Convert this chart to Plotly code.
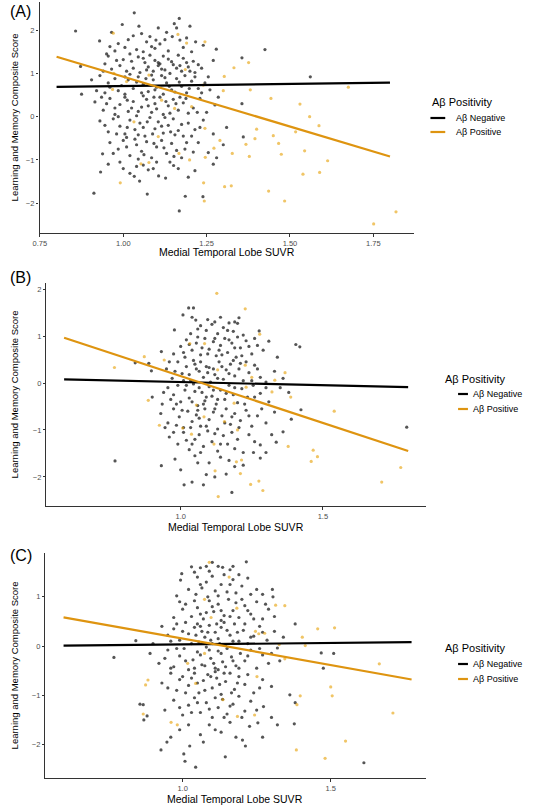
import plotly.graph_objects as go

# ---------------- DATA ----------------
# Panel A
a_neg = [(1.033,2.40),(0.997,2.13),(1.047,2.09),(1.105,2.05),(1.168,2.27),(1.153,2.15),(1.20,2.09),(0.857,1.98),(1.16,2.05),
(0.929,1.75),(0.985,1.69),(1.03,1.87),(1.07,1.73),(1.098,1.77),(1.125,1.78),(1.147,1.85),(1.17,1.77),(1.217,1.73),(1.279,1.56),(1.425,1.55),(0.96,1.62),(1.005,1.60),(1.04,1.55),(1.085,1.62),(1.11,1.68),(1.135,1.52),(1.18,1.60),(1.205,1.50),(0.95,1.45),(0.975,1.52),(1.06,1.50),(1.095,1.58),
(0.955,1.40),(0.98,1.30),(1.00,1.32),(1.02,1.45),(1.045,1.38),(1.065,1.25),(1.08,1.42),(1.095,1.30),(1.11,1.22),(1.12,1.40),(1.135,1.33),(1.15,1.20),(1.165,1.42),(1.18,1.35),(1.19,1.25),(1.21,1.28),(1.225,1.20),(1.356,1.36),(0.872,1.16),(0.94,1.05),(0.965,1.10),(0.99,1.18),(1.01,1.05),(1.03,1.12),(1.05,1.02),(1.075,1.15),(1.09,1.05),(1.105,1.18),(1.125,1.08),(1.14,1.00),(1.16,1.12),(1.175,1.05),(1.195,1.15),(1.215,1.02),(1.105,1.25),(1.06,1.35),
(0.93,0.95),(0.955,0.78),(0.975,0.88),(0.995,0.72),(1.015,0.85),(1.03,0.65),(1.045,0.92),(1.06,0.75),(1.075,0.58),(1.09,0.85),(1.10,0.68),(1.115,0.95),(1.13,0.78),(1.145,0.62),(1.16,0.88),(1.175,0.70),(1.19,0.55),(1.205,0.82),(1.225,0.65),(1.245,0.78),(1.561,0.92),(0.875,0.52),(0.92,0.60),(0.945,0.55),(0.985,0.60),(1.005,0.52),(1.02,0.98),(1.055,0.55),(1.085,0.96),(1.12,0.52),(1.155,0.57),(1.185,0.95),(1.235,0.55),(1.26,0.62),
(0.915,0.34),(0.94,0.15),(0.96,0.42),(0.975,0.05),(0.99,0.28),(1.005,0.45),(1.015,0.12),(1.03,0.35),(1.04,0.02),(1.055,0.22),(1.07,0.40),(1.085,0.10),(1.095,0.30),(1.11,0.45),(1.12,0.05),(1.135,0.25),(1.15,0.40),(1.165,0.15),(1.18,0.32),(1.195,0.08),(1.21,0.20),(1.23,0.42),(1.275,0.27),(1.356,0.30),(1.25,0.10),(0.95,0.30),(1.06,0.48),(1.10,0.18),(1.14,0.08),(1.17,0.45),(0.985,0.00),(1.025,0.20),
(0.93,-0.10),(0.955,-0.35),(0.97,-0.05),(0.99,-0.22),(1.005,-0.40),(1.02,-0.08),(1.035,-0.30),(1.05,-0.15),(1.065,-0.45),(1.08,-0.02),(1.095,-0.28),(1.105,-0.12),(1.12,-0.38),(1.135,-0.20),(1.15,-0.05),(1.165,-0.32),(1.18,-0.45),(1.195,-0.15),(1.215,-0.30),(1.24,-0.08),(1.31,-0.25),(1.36,-0.47),(1.01,-0.48),(1.06,-0.25),(1.125,-0.02),(1.155,-0.42),
(0.938,-0.86),(0.96,-0.60),(0.985,-0.75),(1.00,-0.55),(1.02,-0.90),(1.04,-0.65),(1.055,-0.80),(1.07,-0.58),(1.085,-0.95),(1.10,-0.70),(1.115,-0.55),(1.13,-0.85),(1.145,-0.62),(1.16,-0.78),(1.175,-0.95),(1.19,-0.60),(1.21,-0.82),(1.255,-0.83),(1.30,-0.65),(1.045,-0.98),
(0.932,-1.28),(0.912,-1.77),(1.02,-1.31),(1.033,-1.38),(1.049,-1.49),(1.072,-1.79),(1.075,-1.23),(1.106,-1.37),(1.127,-1.42),(1.151,-1.13),(1.168,-2.18),(1.186,-1.84),(1.239,-1.85),(1.215,-1.25),(0.99,-1.05),(1.06,-1.12),(1.09,-1.20),(1.14,-1.05),(1.00,-1.20)]
a_neg = a_neg + [(0.965,1.95),(1.015,1.78),(1.055,1.92),(1.08,1.85),(1.13,1.95),(1.19,1.82),(1.24,1.65),(0.945,1.22),(1.025,1.28),(1.07,1.08),(1.115,1.10),(1.145,1.27),(1.17,1.18),(1.20,1.05),(1.235,1.12),(1.255,0.92),(1.27,1.30),(0.905,0.85),(0.96,0.68),(1.005,0.92),(1.04,0.80),(1.068,0.88),(1.095,0.62),(1.125,0.90),(1.138,0.70),(1.168,0.80),(1.198,0.65),(1.215,0.92),(0.935,0.45),(0.975,0.20),(1.012,0.38),(1.045,0.12),(1.075,0.25),(1.092,0.45),(1.128,0.35),(1.158,0.30),(1.188,0.42),(1.222,0.10),(1.285,0.45),(0.945,-0.20),(0.98,-0.40),(1.012,-0.25),(1.045,-0.42),(1.072,-0.12),(1.088,-0.40),(1.115,-0.22),(1.142,-0.35),(1.175,-0.18),(1.205,-0.45),(1.23,-0.25),(1.27,-0.40),(0.97,-0.85),(1.01,-0.70),(1.035,-0.52),(1.062,-0.88),(1.092,-0.62),(1.122,-0.72),(1.152,-0.92),(1.185,-0.75),(1.225,-0.60),(1.28,-0.95),(0.955,-1.10),(1.04,-1.15),(1.10,-1.05),(1.165,-1.20),(1.195,-1.40),(1.27,-1.10)]
a_pos = [(0.97,1.93),(1.675,0.68),(1.559,0.0),(1.587,-0.21),(1.53,0.29),(1.517,-0.35),(1.544,-0.79),(1.613,-1.02),(1.589,-1.29),(1.539,-1.33),(1.436,-1.72),(1.484,-1.95),(1.751,-2.48),(1.818,-2.20),(1.304,-1.62),(1.324,-1.60),(1.243,-1.95),(0.991,-1.53),(1.303,0.93),(1.332,1.13),(1.376,1.25),(1.381,0.62),(1.443,0.42),(1.45,-0.44),(1.466,-0.62),(1.474,-0.87),(1.40,-0.29),(1.395,-0.51),(1.368,-0.64),(1.378,-0.92),(1.327,-0.85),(1.29,-0.55),(1.272,-0.73),(1.246,-0.94),(1.241,-1.53),(1.053,-1.09),(1.077,-1.06),(1.245,1.73),(1.164,1.90),(1.19,1.70),(1.186,1.09),(1.24,0.73),(1.30,0.60),(1.245,-0.27),(1.205,0.23),(1.154,0.19),(1.115,0.38),(1.077,0.96),(1.01,0.81),(0.972,1.0),(0.968,0.63),(1.032,-0.12),(1.105,-0.46),(1.167,-0.85),(1.199,-1.0)]
a_neg_line_x = [0.80, 1.80]
a_neg_line_y = [0.69, 0.785]
a_pos_line_x = [0.80, 1.80]
a_pos_line_y = [1.385, -0.92]

# Panel B
b_neg = [(1.028,1.60),(1.045,1.60),(1.008,1.45),(1.053,1.34),(1.205,1.39),(1.20,1.27),(1.276,1.11),(0.978,1.13),(1.07,1.22),(1.09,1.12),(1.11,1.25),(1.13,1.05),(1.15,1.18),(1.17,1.28),(1.035,1.05),(1.06,1.15),(1.12,1.30),(1.185,1.10),(1.22,1.02),
(0.932,0.67),(0.975,0.62),(1.31,0.89),(1.405,0.82),(1.419,0.77),(1.34,0.55),(1.00,0.78),(1.02,0.92),(1.04,0.70),(1.055,0.85),(1.07,0.60),(1.085,0.95),(1.10,0.72),(1.115,0.88),(1.125,0.58),(1.14,0.80),(1.155,0.95),(1.165,0.65),(1.18,0.85),(1.195,0.55),(1.21,0.75),(1.23,0.90),(1.25,0.62),(1.27,0.80),(1.29,0.70),(1.015,0.55),(1.06,0.98),(1.135,0.70),(1.20,0.98),
(0.84,0.43),(0.888,0.42),(0.897,0.26),(0.95,0.30),(0.97,0.10),(0.99,0.45),(1.005,0.20),(1.02,0.35),(1.035,0.05),(1.05,0.40),(1.065,0.25),(1.08,0.12),(1.09,0.35),(1.10,0.33),(1.105,0.02),(1.115,0.30),(1.12,0.18),(1.135,0.45),(1.15,0.08),(1.16,0.28),(1.175,0.40),(1.19,0.15),(1.205,0.30),(1.22,0.05),(1.24,0.22),(1.26,0.38),(1.28,0.12),(1.30,0.02),(1.33,0.25),(1.36,0.10),(1.045,0.48),(1.23,0.45),
(0.90,-0.30),(0.935,-0.45),(0.955,-0.10),(0.975,-0.25),(0.99,-0.05),(1.00,-0.40),(1.015,-0.15),(1.03,-0.32),(1.045,-0.02),(1.06,-0.48),(1.075,-0.20),(1.085,-0.38),(1.10,-0.08),(1.11,-0.28),(1.125,-0.45),(1.14,-0.15),(1.155,-0.35),(1.17,-0.05),(1.185,-0.25),(1.20,-0.42),(1.215,-0.12),(1.235,-0.30),(1.255,-0.05),(1.28,-0.22),(1.31,-0.40),(1.35,-0.10),(1.38,-0.20),(1.09,-0.30),(1.05,-0.18),
(1.423,-0.57),(1.389,-0.77),(0.93,-0.65),(0.955,-0.85),(0.975,-0.55),(0.995,-0.72),(1.01,-0.95),(1.025,-0.60),(1.04,-0.82),(1.055,-0.68),(1.07,-0.92),(1.085,-0.55),(1.10,-0.78),(1.115,-0.62),(1.13,-0.98),(1.145,-0.70),(1.16,-0.55),(1.175,-0.88),(1.19,-0.65),(1.21,-0.80),(1.23,-0.58),(1.25,-0.92),(1.27,-0.70),(1.30,-0.85),(1.33,-0.62),(1.06,-0.58),
(1.36,-1.04),(1.336,-1.26),(1.30,-1.48),(1.256,-1.48),(1.22,-1.48),(0.96,-1.15),(0.99,-1.30),(1.01,-1.05),(1.03,-1.42),(1.05,-1.20),(1.065,-1.10),(1.08,-1.35),(1.095,-1.02),(1.11,-1.25),(1.13,-1.45),(1.15,-1.12),(1.165,-1.30),(1.18,-1.05),(1.20,-1.20),(1.24,-1.10),(1.28,-1.32),(1.02,-1.22),
(0.769,-1.66),(0.932,-1.76),(1.012,-2.17),(1.04,-2.11),(1.08,-2.17),(1.18,-2.33),(1.16,-1.94),(1.19,-1.78),(1.28,-1.60),(0.98,-1.62),(1.05,-1.55),(1.10,-1.70),(1.12,-2.00),(1.14,-1.58),(1.795,-0.94)]
b_neg = b_neg + [(1.04,1.40),(1.095,1.35),(1.14,1.40),(1.165,1.12),(1.19,1.30),(1.01,0.65),(1.03,0.82),(1.075,0.75),(1.095,0.62),(1.12,0.95),(1.145,0.60),(1.17,0.92),(1.19,0.75),(1.215,0.58),(1.24,0.78),(1.26,0.95),(0.96,0.45),(0.98,0.25),(1.01,0.05),(1.03,0.18),(1.055,0.30),(1.07,0.45),(1.095,0.22),(1.13,0.10),(1.145,0.35),(1.17,0.20),(1.185,0.48),(1.21,0.42),(1.25,0.05),(1.27,0.30),(0.94,-0.20),(0.965,-0.35),(0.985,-0.45),(1.02,-0.05),(1.04,-0.40),(1.065,-0.10),(1.08,-0.45),(1.115,-0.15),(1.13,-0.35),(1.16,-0.22),(1.19,-0.10),(1.225,-0.45),(1.26,-0.30),(1.30,-0.10),(0.945,-0.95),(0.985,-0.90),(1.005,-0.58),(1.035,-0.95),(1.065,-0.75),(1.09,-0.92),(1.12,-0.55),(1.155,-0.85),(1.18,-0.72),(1.205,-0.95),(1.24,-0.70),(1.285,-0.55),(0.975,-1.05),(1.04,-1.30),(1.07,-1.48),(1.12,-1.08),(1.14,-1.30),(1.19,-1.40),(1.26,-1.25),(1.32,-1.10),(1.06,-1.70),(1.09,-1.95),(1.17,-1.65),(1.22,-1.75),(1.00,-1.85)]
b_pos = [(1.127,1.91),(1.227,1.58),(0.767,0.33),(0.872,0.56),(0.942,0.49),(0.886,-0.37),(0.925,-0.90),(1.038,-1.09),(1.117,-1.30),(1.121,-1.87),(1.132,-2.42),(1.21,-1.93),(1.246,-2.16),(1.275,-2.09),(1.289,-2.29),(1.214,-1.64),(1.196,-1.68),(1.54,-0.60),(1.466,-1.43),(1.481,-1.57),(1.459,-1.67),(1.707,-2.11),(1.774,-1.80),(1.367,0.22),(1.387,-0.30),(1.378,-1.35),(1.278,1.04),(1.23,-0.09),(1.321,-0.19),(1.331,0.06),(1.25,0.12),(1.227,0.38),(1.084,0.84),(1.13,0.28),(1.055,-0.47),(1.007,-0.96),(1.082,-0.72),(1.154,-0.82),(1.2,-1.0),(1.032,0.84),(1.188,-0.43)]
b_neg_line_x = [0.59, 1.80]
b_neg_line_y = [0.078, -0.09]
b_pos_line_x = [0.59, 1.80]
b_pos_line_y = [0.965, -1.45]

# Panel C
c_neg = [(1.10,1.70),(1.215,1.71),(1.06,1.59),(1.03,1.61),(0.997,1.47),(0.993,1.34),(1.303,1.15),(1.305,1.0),(1.08,1.62),(1.12,1.62),(1.135,1.60),(1.16,1.55),(1.19,1.45),(1.05,1.40),(1.08,1.30),(1.10,1.42),(1.13,1.25),(1.15,1.10),(1.17,1.35),(1.02,1.15),(1.045,1.05),(1.065,1.18),(1.085,1.00),(1.11,1.12),(1.20,1.22),(1.23,1.05),(1.25,1.15),(0.98,1.02),
(0.99,0.90),(1.01,0.85),(1.03,0.60),(1.05,0.78),(1.07,0.55),(1.09,0.92),(1.105,0.70),(1.12,0.85),(1.14,0.62),(1.155,0.95),(1.17,0.72),(1.19,0.58),(1.21,0.82),(1.23,0.65),(1.25,0.90),(1.27,0.55),(1.29,0.75),(1.31,0.60),(0.97,0.58),(1.08,0.68),(1.13,0.52),(1.20,0.95),
(0.842,0.11),(1.38,0.45),(0.90,0.05),(0.93,0.40),(0.95,0.22),(0.97,0.35),(0.99,0.12),(1.01,0.48),(1.02,0.25),(1.04,0.38),(1.055,0.08),(1.065,0.30),(1.075,0.18),(1.09,0.42),(1.10,0.05),(1.11,0.28),(1.12,0.15),(1.13,0.38),(1.145,0.02),(1.16,0.22),(1.175,0.45),(1.19,0.10),(1.205,0.32),(1.22,0.05),(1.24,0.20),(1.26,0.40),(1.285,0.12),(1.31,0.30),(1.34,0.18),(1.05,0.45),(1.14,0.48),
(0.768,-0.23),(1.475,-0.45),(1.51,-0.15),(1.468,-0.14),(1.32,-0.04),(1.328,-0.30),(0.89,-0.15),(0.92,-0.35),(0.95,-0.08),(0.97,-0.42),(0.99,-0.20),(1.005,-0.05),(1.02,-0.48),(1.035,-0.28),(1.05,-0.12),(1.065,-0.38),(1.08,-0.02),(1.095,-0.25),(1.11,-0.45),(1.12,-0.10),(1.135,-0.32),(1.15,-0.05),(1.165,-0.22),(1.18,-0.40),(1.195,-0.15),(1.21,-0.30),(1.23,-0.08),(1.25,-0.45),(1.27,-0.18),(1.29,-0.35),(1.12,-0.48),
(0.93,-0.75),(0.96,-0.55),(0.98,-0.90),(1.00,-0.62),(1.02,-0.80),(1.04,-0.55),(1.055,-0.95),(1.07,-0.70),(1.085,-0.58),(1.10,-0.85),(1.115,-0.65),(1.13,-0.98),(1.145,-0.72),(1.16,-0.55),(1.175,-0.88),(1.19,-0.62),(1.21,-0.78),(1.24,-0.95),(1.27,-0.68),(1.30,-0.82),(1.362,-0.99),(1.11,-0.52),
(0.856,-1.18),(0.867,-1.19),(0.88,-1.42),(1.38,-1.15),(1.273,-1.23),(0.94,-1.30),(0.97,-1.10),(1.00,-1.40),(1.02,-1.20),(1.04,-1.05),(1.06,-1.35),(1.08,-1.15),(1.10,-1.45),(1.12,-1.25),(1.135,-1.08),(1.15,-1.38),(1.17,-1.18),(1.19,-1.02),(1.21,-1.32),(1.23,-1.12),
(0.869,-1.50),(0.927,-2.11),(0.947,-1.95),(1.004,-2.19),(1.008,-2.34),(1.044,-2.46),(1.024,-2.03),(1.144,-2.25),(1.212,-2.03),(1.202,-1.91),(1.377,-1.58),(1.32,-1.60),(1.226,-1.63),(1.254,-1.56),(1.612,-2.37),(0.99,-1.70),(1.06,-1.80),(1.09,-1.60),(1.13,-1.75),(1.16,-1.55),(1.27,-1.85)]
c_neg = c_neg + [(1.04,1.50),(1.09,1.52),(1.17,1.62),(1.14,1.45),(1.22,1.38),(1.06,1.25),(1.12,1.02),(1.16,1.25),(1.18,1.08),(1.27,1.05),(1.00,0.75),(1.04,0.92),(1.06,0.65),(1.10,0.80),(1.13,0.72),(1.16,0.60),(1.18,0.88),(1.22,0.72),(1.24,0.55),(1.28,0.85),(0.96,0.10),(0.98,0.45),(1.00,0.30),(1.03,0.05),(1.045,0.22),(1.06,0.40),(1.085,0.28),(1.095,0.12),(1.115,0.45),(1.125,0.05),(1.15,0.32),(1.17,0.10),(1.185,0.28),(1.21,0.45),(1.23,0.18),(1.27,0.28),(0.94,-0.25),(0.96,-0.45),(0.98,-0.05),(1.01,-0.30),(1.04,-0.45),(1.06,-0.18),(1.075,-0.40),(1.09,-0.08),(1.105,-0.35),(1.13,-0.15),(1.145,-0.42),(1.17,-0.30),(1.19,-0.45),(1.22,-0.20),(1.26,-0.05),(1.30,-0.15),(0.95,-0.85),(0.99,-0.68),(1.01,-0.95),(1.03,-0.65),(1.05,-0.75),(1.075,-0.90),(1.095,-0.62),(1.125,-0.78),(1.14,-0.55),(1.165,-0.95),(1.185,-0.75),(1.22,-0.58),(1.26,-0.85),(0.99,-1.25),(1.03,-1.35),(1.05,-1.15),(1.09,-1.28),(1.11,-1.05),(1.14,-1.45),(1.16,-1.22),(1.20,-1.45),(1.25,-1.30),(1.30,-1.45),(1.02,-1.60),(1.07,-1.95),(1.11,-1.70),(1.18,-1.85),(0.96,-1.85)]
c_pos = [(1.09,1.70),(1.157,1.40),(1.074,0.95),(1.314,0.83),(1.345,0.82),(1.456,0.35),(1.513,0.37),(1.414,0.01),(1.664,-0.36),(1.71,-1.36),(1.50,-0.83),(1.505,-1.01),(1.55,-1.93),(1.481,-2.28),(1.384,-2.11),(1.397,-1.01),(1.386,-1.19),(0.875,-0.79),(0.867,-1.38),(0.982,-1.60),(0.961,-1.55),(0.883,-0.69),(1.044,-0.76),(1.136,-1.09),(1.185,-1.43),(1.243,-1.40),(1.251,-0.62),(1.326,0.03),(1.345,-0.26),(1.404,0.18),(1.277,0.26),(1.257,0.25),(1.074,-0.15),(1.017,-0.35),(1.096,0.58),(1.183,0.77),(1.246,0.3)]
c_neg_line_x = [0.598, 1.773]
c_neg_line_y = [0.007, 0.08]
c_pos_line_x = [0.598, 1.773]
c_pos_line_y = [0.584, -0.68]

panel_labels = ["(A)", "(B)", "(C)"]
x_title = "Medial Temporal Lobe SUVR"
y_title = "Learning and Memory Composite Score"
legend_title = "Aβ Positivity"
legend_items = ["Aβ Negative", "Aβ Positive"]

# ---------------- LAYOUT GEOMETRY (pixels) ----------------
W, H = 540, 805
NEG_COL = "rgba(20,20,20,0.72)"
POS_COL = "rgba(230,159,0,0.6)"
NEG_LINE = "#000000"
POS_LINE = "#DE9410"

panels = [
    dict(data=(a_neg, a_pos, a_neg_line_x, a_neg_line_y, a_pos_line_x, a_pos_line_y),
         px=(33, 412), py=(2, 233), xr=(0.749, 1.871), yr=(-2.69, 2.65),
         xt=[0.75, 1.00, 1.25, 1.50, 1.75], xtt=["0.75", "1.00", "1.25", "1.50", "1.75"],
         yt=[-2, -1, 0, 1, 2], lab=(12, 12), xtitle_y=252,
         leg=dict(tx=429, ty=102, lx0=429, lx1=444, tx2=453, y1=118, y2=132)),
    dict(data=(b_neg, b_pos, b_neg_line_x, b_neg_line_y, b_pos_line_x, b_pos_line_y),
         px=(40, 424), py=(283, 506), xr=(0.528, 1.861), yr=(-2.62, 2.13),
         xt=[1.0, 1.5], xtt=["1.0", "1.5"],
         yt=[-2, -1, 0, 1, 2], lab=(13, 278), xtitle_y=527,
         leg=dict(tx=442, ty=379, lx0=457, lx1=467, tx2=470, y1=394, y2=409)),
    dict(data=(c_neg, c_pos, c_neg_line_x, c_neg_line_y, c_pos_line_x, c_pos_line_y),
         px=(39, 424), py=(553, 778), xr=(0.537, 1.82), yr=(-2.68, 1.89),
         xt=[1.0, 1.5], xtt=["1.0", "1.5"],
         yt=[-2, -1, 0, 1], lab=(13, 555), xtitle_y=799,
         leg=dict(tx=442, ty=648, lx0=457, lx1=467, tx2=470, y1=664, y2=679)),
]

FONT = "Liberation Sans, Arial, sans-serif"
fig = go.Figure()
annotations = []
shapes = []

def fx(p):
    return p / W

def fy(p):
    return 1 - p / H

for i, p in enumerate(panels, start=1):
    neg, pos, nlx, nly, plx, ply = p["data"]
    xa = "x" if i == 1 else f"x{i}"
    ya = "y" if i == 1 else f"y{i}"
    fig.add_trace(go.Scatter(x=[v[0] for v in neg], y=[v[1] for v in neg], mode="markers",
                             marker=dict(size=3.2, color=NEG_COL, line=dict(width=0)),
                             xaxis=xa, yaxis=ya, showlegend=False))
    fig.add_trace(go.Scatter(x=[v[0] for v in pos], y=[v[1] for v in pos], mode="markers",
                             marker=dict(size=3.2, color=POS_COL, line=dict(width=0)),
                             xaxis=xa, yaxis=ya, showlegend=False))
    fig.add_trace(go.Scatter(x=nlx, y=nly, mode="lines", line=dict(color=NEG_LINE, width=2.2),
                             xaxis=xa, yaxis=ya, showlegend=False))
    fig.add_trace(go.Scatter(x=plx, y=ply, mode="lines", line=dict(color=POS_LINE, width=2.2),
                             xaxis=xa, yaxis=ya, showlegend=False))
    ax_common = dict(showgrid=False, zeroline=False, showline=True, linecolor="#333333",
                     linewidth=1.3, ticks="outside", ticklen=2.5, tickcolor="#333333", tickwidth=1,
                     tickfont=dict(size=7.5, color="#4D4D4D", family=FONT))
    xkey = "xaxis" if i == 1 else f"xaxis{i}"
    ykey = "yaxis" if i == 1 else f"yaxis{i}"
    fig.update_layout(**{
        xkey: dict(domain=[fx(p["px"][0]), fx(p["px"][1])], range=list(p["xr"]), anchor=ya,
                   tickvals=p["xt"], ticktext=p["xtt"], **ax_common),
        ykey: dict(domain=[fy(p["py"][1]), fy(p["py"][0])], range=list(p["yr"]), anchor=xa,
                   tickvals=p["yt"], **ax_common),
    })
    annotations.append(dict(text=panel_labels[i-1], x=fx(1), y=fy(p["lab"][1]), xref="paper", yref="paper",
                            xanchor="left", yanchor="middle", showarrow=False,
                            font=dict(size=16, color="#000000", family=FONT)))
    annotations.append(dict(text=x_title, x=fx((p["px"][0] + p["px"][1]) / 2), y=fy(p["xtitle_y"]),
                            xref="paper", yref="paper", xanchor="center", yanchor="middle", showarrow=False,
                            font=dict(size=10.5, color="#000000", family=FONT)))
    annotations.append(dict(text=y_title, x=fx(8), y=fy((p["py"][0] + p["py"][1]) / 2),
                            xref="paper", yref="paper", xanchor="center", yanchor="middle", showarrow=False,
                            textangle=-90, font=dict(size=9.5, color="#000000", family=FONT)))
    lg = p["leg"]
    annotations.append(dict(text=legend_title, x=fx(lg["tx"]), y=fy(lg["ty"]), xref="paper", yref="paper",
                            xanchor="left", yanchor="middle", showarrow=False,
                            font=dict(size=11, color="#000000", family=FONT)))
    for txt, yy in zip(legend_items, (lg["y1"], lg["y2"])):
        annotations.append(dict(text=txt, x=fx(lg["tx2"]), y=fy(yy), xref="paper", yref="paper",
                                xanchor="left", yanchor="middle", showarrow=False,
                                font=dict(size=9, color="#000000", family=FONT)))
    shapes.append(dict(type="line", xref="paper", yref="paper", x0=fx(lg["lx0"]), x1=fx(lg["lx1"]),
                       y0=fy(lg["y1"]), y1=fy(lg["y1"]), line=dict(color=NEG_LINE, width=2.2)))
    shapes.append(dict(type="line", xref="paper", yref="paper", x0=fx(lg["lx0"]), x1=fx(lg["lx1"]),
                       y0=fy(lg["y2"]), y1=fy(lg["y2"]), line=dict(color=POS_LINE, width=2.2)))

fig.update_layout(width=W, height=H, margin=dict(l=0, r=0, t=0, b=0),
                  paper_bgcolor="white", plot_bgcolor="white",
                  annotations=annotations, shapes=shapes, font=dict(family=FONT))
fig.write_html("out.html")
